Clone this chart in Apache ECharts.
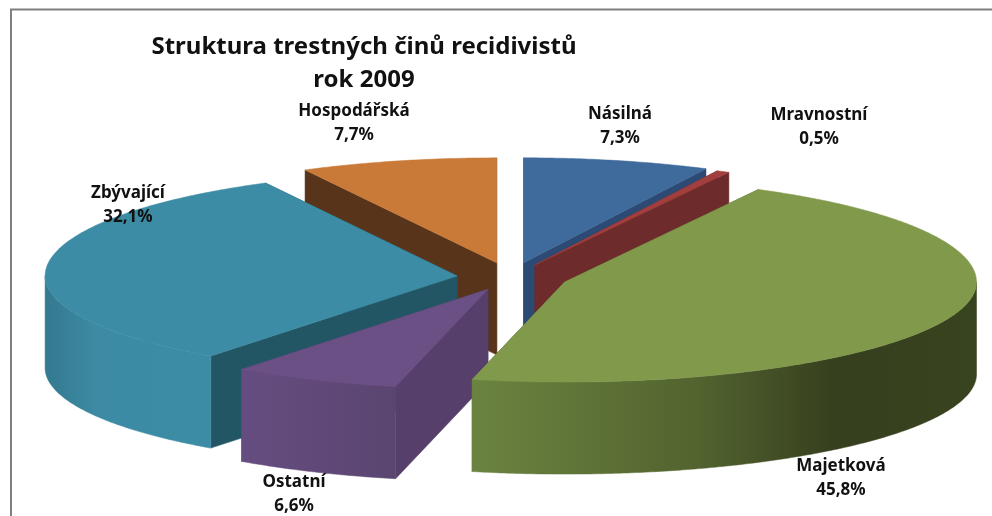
<!DOCTYPE html>
<html>
<head>
<meta charset="utf-8">
<style>html,body{margin:0;padding:0;background:#fff}#c{width:992px;height:516px}</style>
<script src="https://cdn.jsdelivr.net/npm/echarts@6/dist/echarts.min.js"></script>
</head>
<body>
<div id="c"></div>
<script>
// Data, clockwise from the top of the pie
const categories = ['Násilná', 'Mravnostní', 'Majetková', 'Ostatní', 'Zbývající', 'Hospodářská'];
const shares = [7.3, 0.5, 45.8, 6.6, 32.1, 7.7];
const titleLines = ['Struktura trestných činů recidivistů', 'rok 2009'];

// Style and layout
const topColors  = ['#3f6a9c', '#a03f3d', '#81994a', '#6b5086', '#3d8ca5', '#c97a38'];
const wallColors = ['#2c4a73', '#6e2b2b', '#4f6030', '#563f6a', '#235665', '#57341a'];
const rimStops = [
  [[0, '#2c4a73'], [1, '#2c4a73']],
  [[0, '#6e2b2b'], [1, '#6e2b2b']],
  [[0, '#6b8340'], [0.45, '#52632f'], [0.72, '#363f1e'], [1, '#38431f']],
  [[0, '#664d81'], [1, '#5a4570']],
  [[0, '#34798f'], [0.3, '#3c8aa3'], [1, '#3d8ca5']],
  [[0, '#57341a'], [1, '#57341a']]
];
const explode = [0.14, 0.13, 0.14, 0.13, 0.13, 0.14];
const paintRank = [2, 3, 6, 5, 4, 1];
const labelCenters = [[620, 126], [819, 127], [841, 478], [294, 494], [128, 205], [354, 123]];
const pie = { cx: 510.5, cy: 277, rx: 412, ryBack: 105, ryFront: 100, ryExplode: 104, depth: 92 };

const total = shares.reduce((a, b) => a + b, 0);
function startAngle(i) {
  let s = 0;
  for (let k = 0; k < i; k++) s += shares[k];
  return s / total * Math.PI * 2;
}
function rimPoint(c, t, dy) {
  const cs = Math.cos(t);
  return [c[0] + pie.rx * Math.sin(t), c[1] - (cs > 0 ? pie.ryBack : pie.ryFront) * cs + (dy || 0)];
}
function arc(c, a, b, dy) {
  const n = Math.max(2, Math.ceil((b - a) / 0.01));
  const pts = [];
  for (let k = 0; k <= n; k++) pts.push(rimPoint(c, a + (b - a) * k / n, dy));
  return pts;
}
function poly(points, fill, z2) {
  return { type: 'polygon', shape: { points }, style: { fill, stroke: fill, lineWidth: 0.5 }, z2, silent: true };
}
function renderItem(params, api) {
  const i = params.dataIndex;
  const a = startAngle(i);
  const b = a + api.value(0) / total * Math.PI * 2;
  const m = (a + b) / 2;
  const f = explode[i];
  const c = [pie.cx + f * pie.rx * Math.sin(m), pie.cy - f * pie.ryExplode * Math.cos(m)];
  const z = paintRank[i] * 10;
  const d = pie.depth;
  const children = [];
  [a, b].forEach(t => {
    const r = rimPoint(c, t);
    children.push(poly([c, r, [r[0], r[1] + d], [c[0], c[1] + d]], wallColors[i], z));
  });
  const fa = Math.max(a, Math.PI / 2), fb = Math.min(b, Math.PI * 1.5);
  if (fb > fa) {
    const rim = arc(c, fa, fb).concat(arc(c, fa, fb, d).reverse());
    const colorStops = rimStops[i].map(s => ({ offset: s[0], color: s[1] }));
    const fill = new echarts.graphic.LinearGradient(0, 0, 1, 0, colorStops);
    children.push(poly(rim, fill, z + 1));
  }
  children.push(poly([c].concat(arc(c, a, b)), topColors[i], z + 2));
  const lc = labelCenters[i];
  children.push({
    type: 'text', z2: 200, silent: true,
    style: {
      x: lc[0], y: lc[1], align: 'center', verticalAlign: 'middle',
      text: categories[i] + '\n' + shares[i].toFixed(1).replace('.', ',') + '%',
      font: 'bold 17px "Noto Sans", "Open Sans", sans-serif', lineHeight: 24, fill: '#111'
    }
  });
  return { type: 'group', children };
}

const chart = echarts.init(document.getElementById('c'), null, { renderer: 'canvas' });
chart.setOption({
  animation: false,
  backgroundColor: '#fff',
  title: {
    text: titleLines.join('\n'), left: 359, top: 26, textAlign: 'center',
    textStyle: { fontFamily: '"Noto Sans", "Open Sans", sans-serif', fontWeight: 'bold', fontSize: 24, lineHeight: 33, color: '#111' }
  },
  graphic: [{
    type: 'rect', silent: true, z: -1,
    shape: { x: 11, y: 9.5, width: 1000, height: 530 },
    style: { fill: 'none', stroke: '#7f7f7f', lineWidth: 2 }
  }],
  series: [{
    type: 'custom', coordinateSystem: 'none', renderItem,
    data: shares.map((v, i) => ({ name: categories[i], value: [v] })),
    clip: false, silent: true
  }]
});
</script>
</body>
</html>
